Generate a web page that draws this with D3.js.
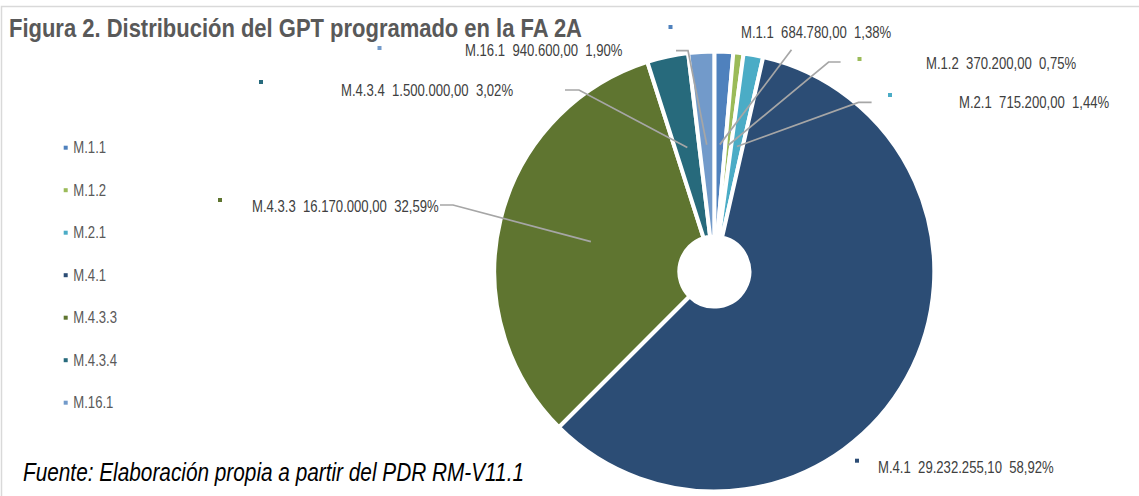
<!DOCTYPE html>
<html>
<head>
<meta charset="utf-8">
<script src="https://cdn.jsdelivr.net/npm/d3@7"></script>
<style>
  body { margin: 0; background: #fff; }
  svg { display: block; font-family: "Liberation Sans", Arial, sans-serif; }
</style>
</head>
<body>
<div id="chartContainer"></div>
<script>
// Data
const categories = ["M.1.1", "M.1.2", "M.2.1", "M.4.1", "M.4.3.3", "M.4.3.4", "M.16.1"];
const values = [684780.00, 370200.00, 715200.00, 29232255.10, 16170000.00, 1500000.00, 940600.00];
const percentLabels = ["1,38%", "0,75%", "1,44%", "58,92%", "32,59%", "3,02%", "1,90%"];
const colors = ["#4f81bd", "#9bbb59", "#4bacc6", "#2c4d75", "#5f7530", "#276a7c", "#729aca"];

// Label placement (marker / text / leader elbow), in pixels
const labelLayout = [
    { mx: 670.5, my: 27, tx: 741, ty: 37.7, lead: [[791.5, 49.8]] },
    { mx: 859.5, my: 59, tx: 926, ty: 68.5, lead: [[840.6, 62], [828.6, 62]] },
    { mx: 890, my: 95, tx: 959, ty: 108, lead: [[871.6, 102.4], [858.5, 102.4]] },
    { mx: 857, my: 460.7, tx: 878, ty: 472.7, lead: null },
    { mx: 220, my: 200, tx: 252, ty: 211.7, lead: [[440, 205], [453, 205]] },
    { mx: 261, my: 82, tx: 341, ty: 96, lead: [[565, 90], [579, 90]] },
    { mx: 379.5, my: 48, tx: 465, ty: 55.7, lead: [[676, 50.7], [688, 50.7]] }
];

const data = categories.map((c, i) => ({ name: c, value: values[i], pct: percentLabels[i], color: colors[i], layout: labelLayout[i] }));

const esFormat = d3.formatLocale({ decimal: ",", thousands: ".", grouping: [3], currency: ["", ""] }).format(",.2f");
const NARROW = 0.82; // Arial Narrow = Arial squeezed to 82%

// text in a narrow face: Liberation Sans compressed horizontally
function narrowText(sel, x, y, size) {
    return sel.append("text")
        .attr("transform", `translate(${x},${y}) scale(${NARROW},1)`)
        .style("font-size", size + "px")
        .attr("xml:space", "preserve");
}

function createChart(data) {
    const width = 1139;
    const height = 496;
    const cx = 714.3, cy = 271.5;
    const outerR = 220, innerR = 35;

    const svg = d3.create("svg")
        .attr("width", width)
        .attr("height", height)
        .attr("viewBox", `0 0 ${width} ${height}`);

    // chart frame
    svg.append("rect")
        .attr("x", 1.5).attr("y", 6.5)
        .attr("width", width + 10).attr("height", height)
        .attr("fill", "none")
        .attr("stroke", "#d9d9d9")
        .attr("stroke-width", 1.5);

    // title
    narrowText(svg, 9, 37.3, 26.5)
        .attr("fill", "#595959")
        .style("font-weight", "bold")
        .attr("textLength", 573 / NARROW)
        .attr("lengthAdjust", "spacingAndGlyphs")
        .text("Figura 2. Distribución del GPT programado en la FA 2A");

    // pie layout
    const pie = d3.pie().sort(null).value(d => d.value);
    const arcs = pie(data);
    const arc = d3.arc().innerRadius(innerR).outerRadius(outerR);
    const inner = d3.arc().innerRadius(127).outerRadius(127);

    const g = svg.append("g").attr("transform", `translate(${cx},${cy})`);
    g.selectAll("path")
        .data(arcs)
        .join("path")
        .attr("d", arc)
        .attr("fill", d => d.data.color)
        .attr("stroke", "#fff")
        .attr("stroke-width", 4);

    // leader lines
    const line = d3.line();
    svg.append("g")
        .selectAll("path")
        .data(arcs.filter(d => d.data.layout.lead))
        .join("path")
        .attr("d", d => {
            const [x, y] = inner.centroid(d);
            return line([...d.data.layout.lead, [cx + x, cy + y]]);
        })
        .attr("fill", "none")
        .attr("stroke", "#a6a6a6")
        .attr("stroke-width", 1.7);

    // data labels
    const labels = svg.append("g");
    arcs.forEach(d => {
        const L = d.data.layout;
        labels.append("rect")
            .attr("x", L.mx - 2).attr("y", L.my - 2)
            .attr("width", 4).attr("height", 4)
            .attr("fill", d.data.color);
        narrowText(labels, L.tx, L.ty, 16)
            .attr("fill", "#404040")
            .text(`${d.data.name}  ${esFormat(d.data.value)}  ${d.data.pct}`);
    });

    // legend
    const legend = svg.append("g");
    data.forEach((d, i) => {
        const y = 147.7 + i * 42.5;
        legend.append("rect")
            .attr("x", 63.7).attr("y", y - 2)
            .attr("width", 4).attr("height", 4)
            .attr("fill", d.color);
        narrowText(legend, 73.3, y + 5.7, 16)
            .attr("fill", "#595959")
            .text(d.name);
    });

    // source note
    narrowText(svg, 23, 480.7, 25)
        .attr("fill", "#000")
        .style("font-style", "italic")
        .attr("textLength", 501 / NARROW)
        .attr("lengthAdjust", "spacingAndGlyphs")
        .text("Fuente: Elaboración propia a partir del PDR RM-V11.1");

    return svg.node();
}

document.getElementById("chartContainer").appendChild(createChart(data));
</script>
</body>
</html>
